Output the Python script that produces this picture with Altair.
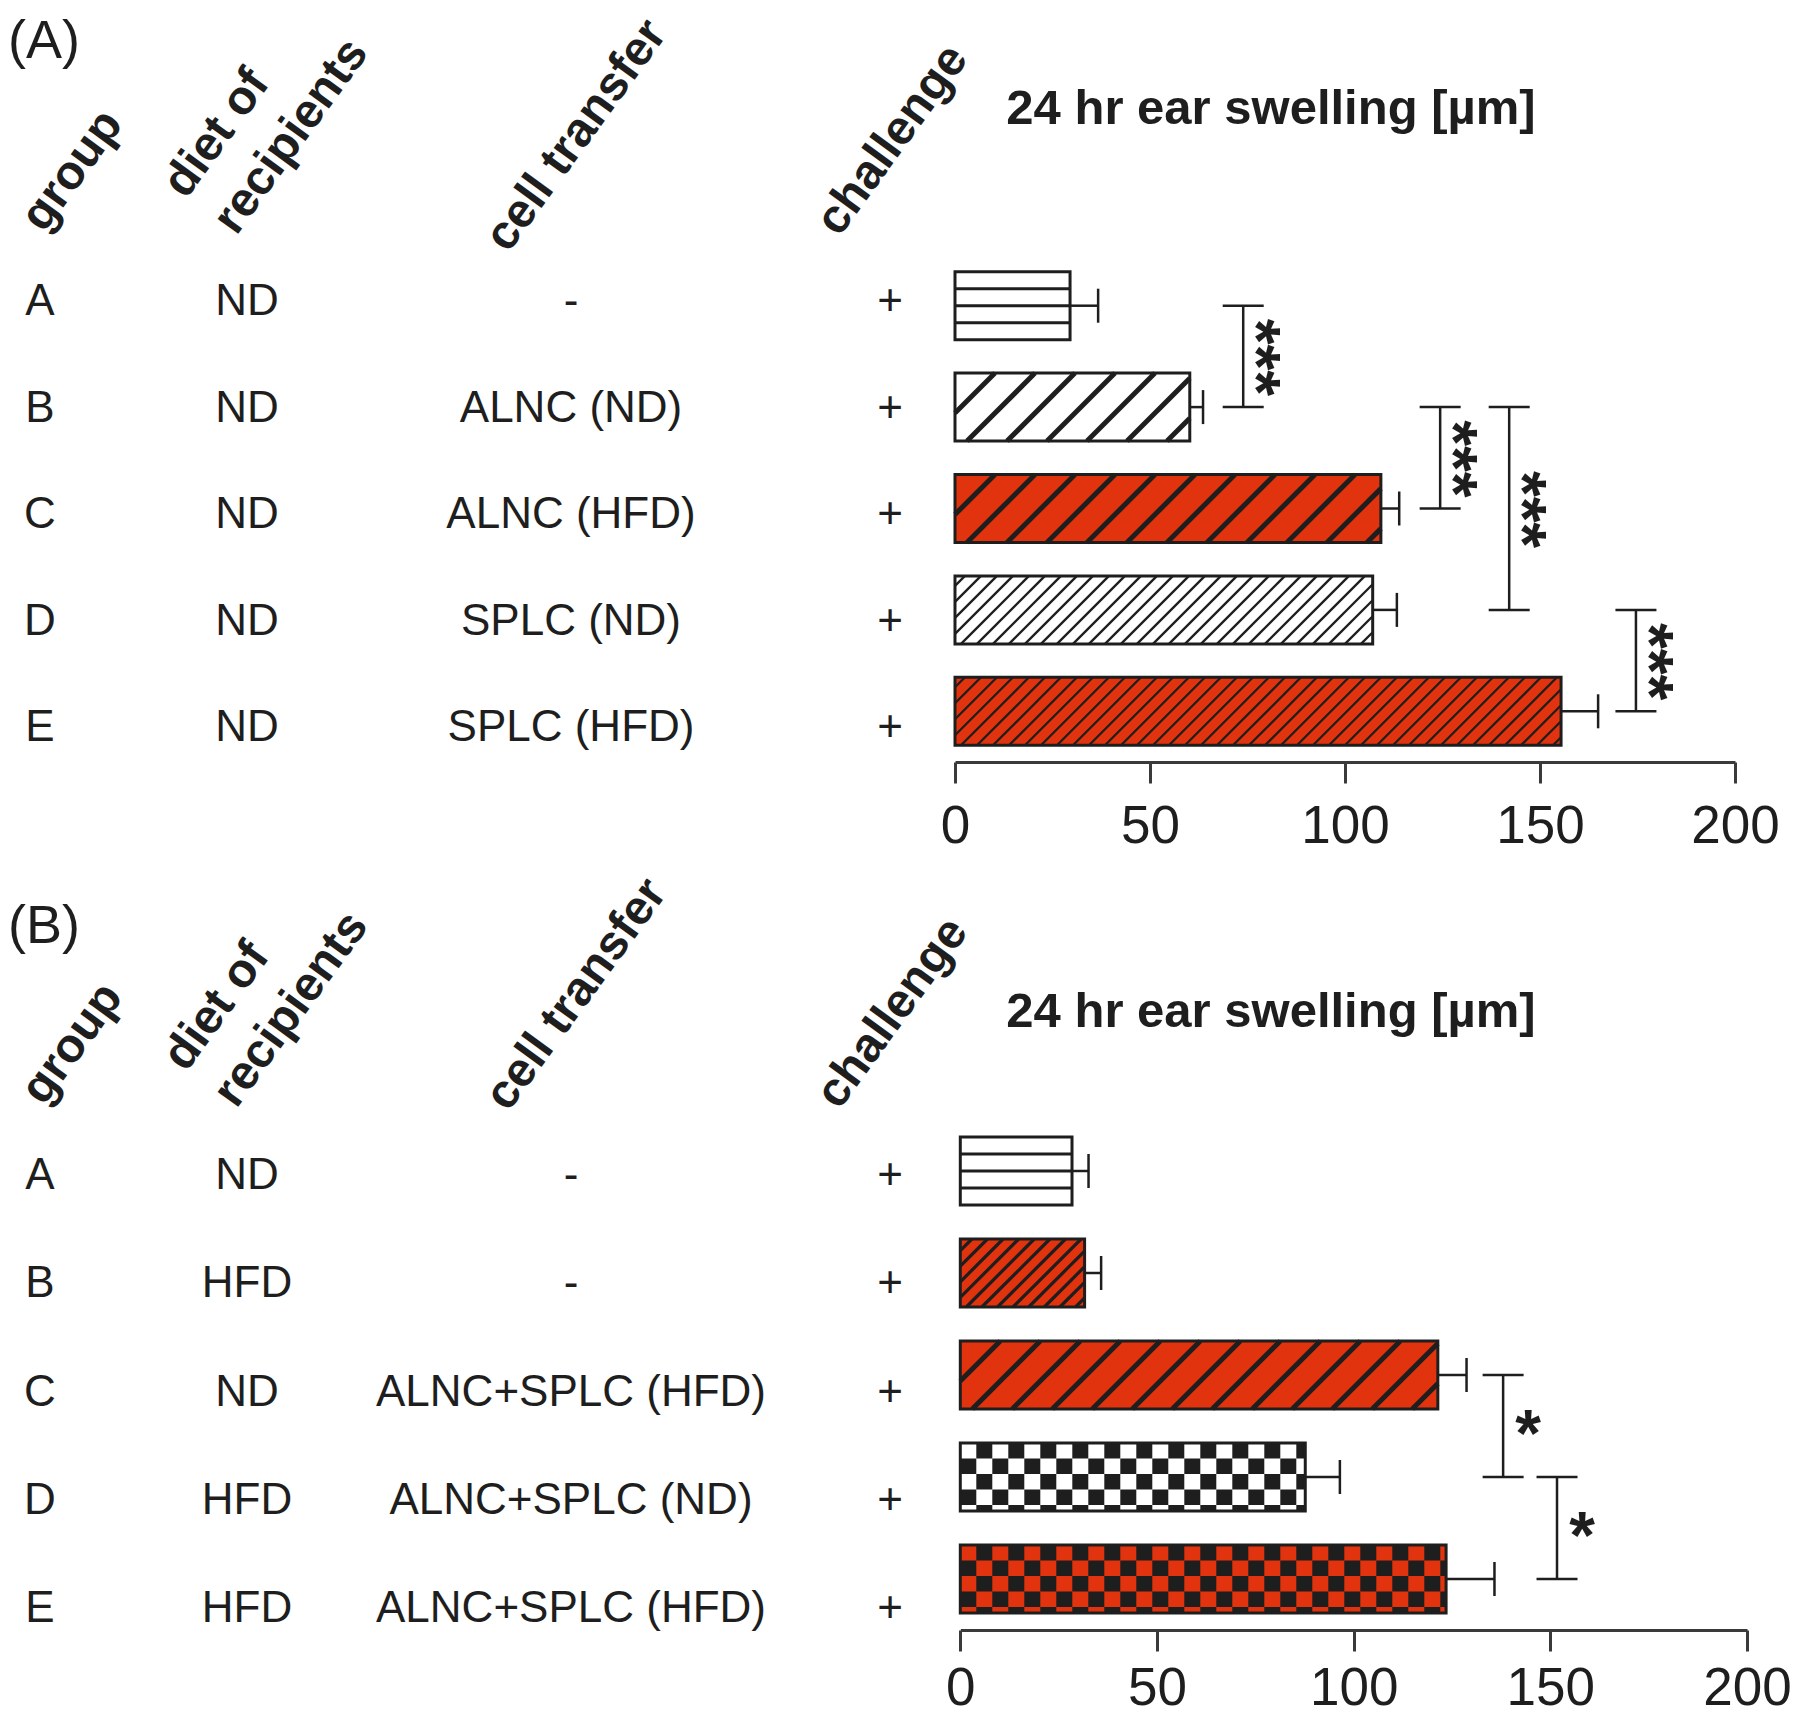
import altair as alt
import pandas as pd
import numpy as np

# ------------------------------------------------------------------ data
groups = ["A", "B", "C", "D", "E"]
headers = ["group", "diet of\nrecipients", "cell transfer", "challenge"]
title_text = "24 hr ear swelling [µm]"
x_ticks = [0, 50, 100, 150, 200]

# panel (A)
a_diet = ["ND", "ND", "ND", "ND", "ND"]
a_transfer = ["-", "ALNC (ND)", "ALNC (HFD)", "SPLC (ND)", "SPLC (HFD)"]
a_challenge = ["+", "+", "+", "+", "+"]
a_mean = [29.5, 60.2, 109.2, 107.1, 155.4]
a_sem = [7.2, 3.4, 4.7, 6.2, 9.5]
a_sig_from = ["A", "B", "B", "D"]
a_sig_to = ["B", "C", "D", "E"]
a_sig_x = [73.9, 124.4, 142.1, 174.6]
a_sig_label = ["***", "***", "***", "***"]

# panel (B)
b_diet = ["ND", "HFD", "ND", "HFD", "HFD"]
b_transfer = ["-", "-", "ALNC+SPLC (HFD)", "ALNC+SPLC (ND)", "ALNC+SPLC (HFD)"]
b_challenge = ["+", "+", "+", "+", "+"]
b_mean = [28.4, 31.6, 121.4, 87.7, 123.5]
b_sem = [4.2, 4.2, 7.3, 8.8, 12.3]
b_sig_from = ["C", "D"]
b_sig_to = ["D", "E"]
b_sig_x = [138.0, 151.7]
b_sig_label = ["*", "*"]

# ------------------------------------------------------------------ styles
FONT = "Liberation Sans"
RED = "#E2330F"
INK = "#1e1e1e"
AXIS = "#3a3a3a"

a_patterns = [("hlines", "white"), ("diag_thick", "white"), ("diag_thick", RED),
              ("diag_thin", "white"), ("diag_thin", RED)]
b_patterns = [("hlines", "white"), ("diag_mid", RED), ("diag_thick", RED),
              ("check", "white"), ("check", RED)]

PAT = {
    "hlines": dict(kind="h", w=3.0),
    "diag_thick": dict(kind="d", period=40.0, w=5.0, phase=12.0),
    "diag_thin": dict(kind="d", period=16.0, w=2.3, phase=6.0),
    "diag_mid": dict(kind="d", period=15.6, w=3.2, phase=6.0),
    "check": dict(kind="c", cw=16.0, ch=15.5),
}

BAR_PX = 68.0      # bar thickness in pixels
CAP_PX = 17.0      # half height of error-bar caps
BRK_PX = 20.5      # half width of bracket caps
col_x = [32, 239, 563, 882]

layout_a = dict(xr=[947, 1727], yr=[247, 754], axis_offset=-868, label_pad=17, label="(A)", label_xy=(0, 7),
                headers_xy=[(36, 226), (178, 192), (500, 246), (831, 230)],
                title_xy=(1263, 116), sig_angle=90, sig_dx=1, sig_dy=-11,
                row_shift=-0.032, row_scale=1.050)
layout_b = dict(xr=[952.3, 1739], yr=[1112, 1622], axis_offset=0, label_pad=11, label="(B)", label_xy=(0, 892),
                headers_xy=[(36, 1099), (178, 1065), (500, 1105), (831, 1103)],
                title_xy=(1263, 1019), sig_angle=0, sig_dx=25, sig_dy=10,
                row_shift=0.05, row_scale=1.061)


def pattern_frames(mean, patterns, kx, ky):
    """Hatch segments / checker squares derived from bar values (in data units)."""
    hh = BAR_PX / 2 / ky
    segs, sqs = [], []
    for idx, (m, (pname, fill)) in enumerate(zip(mean, patterns)):
        p = PAT[pname]
        W = m * kx
        H = BAR_PX
        if p["kind"] == "h":
            for f in (0.25, 0.5, 0.75):
                yv = idx - hh + f * 2 * hh
                segs.append(dict(x=0.0, x2=m, y=yv, y2=yv, sw=p["w"]))
        elif p["kind"] == "d":
            P = p["period"]
            k0 = int(np.floor((-H - p["phase"]) / P)) - 1
            k1 = int(np.ceil((W - p["phase"]) / P)) + 1
            for k in range(k0, k1 + 1):
                c = p["phase"] + k * P
                w_lo = max(0.0, -c)
                w_hi = min(H, W - c)
                if w_hi - w_lo > 0.8:
                    u1, u2 = w_lo + c, w_hi + c
                    segs.append(dict(x=u1 / kx, x2=u2 / kx,
                                     y=idx + hh - w_lo / ky, y2=idx + hh - w_hi / ky, sw=p["w"]))
        else:
            cw, ch = p["cw"], p["ch"]
            ncol = int(np.ceil(W / cw))
            nrow = int(np.ceil(H / ch))
            for r in range(nrow):
                for c in range(ncol):
                    if (r + c) % 2 == 1:
                        x0, x1 = c * cw, min((c + 1) * cw, W)
                        y0, y1 = r * ch, min((r + 1) * ch, H)
                        sqs.append(dict(x=x0 / kx, x2=x1 / kx,
                                        y=idx - hh + y0 / ky, y2=idx - hh + y1 / ky))
    return pd.DataFrame(segs), pd.DataFrame(sqs)


def build_panel(diet, transfer, challenge, mean, sem, sig_from, sig_to, sig_x, sig_label, patterns, L):
    kx = (L["xr"][1] - L["xr"][0]) / 200.0
    ky = (L["yr"][1] - L["yr"][0]) / 5.0
    hh = BAR_PX / 2 / ky
    cap = CAP_PX / ky
    brk = BRK_PX / kx

    xs = alt.Scale(domain=[0, 200], range=L["xr"], nice=False, zero=False)
    ys = alt.Scale(domain=[-0.5, 4.5], range=L["yr"], nice=False, zero=False)
    xaxis = alt.Axis(orient="bottom", offset=L["axis_offset"], values=x_ticks, format="d", title=None,
                     grid=False, domainColor=AXIS, domainWidth=3, tickColor=AXIS, tickWidth=3,
                     tickSize=21, labelFontSize=53, labelFont=FONT, labelColor=INK,
                     labelPadding=L["label_pad"], labelFlush=False, labelOverlap=False)

    def X(f):
        return alt.X(f, scale=xs, axis=xaxis)

    def Y(f):
        return alt.Y(f, scale=ys, axis=None)

    df = pd.DataFrame({"group": groups, "idx": list(range(5)), "diet": diet, "transfer": transfer,
                       "challenge": challenge, "mean": mean, "sem": sem,
                       "fill": [p[1] for p in patterns]})
    base = alt.Chart(df).transform_calculate(
        x0="0", y0=f"datum.idx - {hh}", y1=f"datum.idx + {hh}",
        hi="datum.mean + datum.sem", c0=f"datum.idx - {cap}", c1=f"datum.idx + {cap}",
        trow=f"{L['row_shift']} + {L['row_scale']} * datum.idx")

    layers = []
    layers.append(base.mark_rect().encode(x=X("x0:Q"), x2="mean:Q", y=Y("y0:Q"), y2="y1:Q",
                                          color=alt.Color("fill:N", scale=None)))
    seg_df, sq_df = pattern_frames(mean, patterns, kx, ky)
    if len(sq_df):
        layers.append(alt.Chart(sq_df).mark_rect(color=INK).encode(
            x=X("x:Q"), x2="x2:Q", y=Y("y:Q"), y2="y2:Q"))
    if len(seg_df):
        layers.append(alt.Chart(seg_df).mark_rule(color=INK, strokeCap="butt").encode(
            x=X("x:Q"), x2="x2:Q", y=Y("y:Q"), y2="y2:Q",
            strokeWidth=alt.StrokeWidth("sw:Q", scale=None)))
    layers.append(base.mark_rect(fill="white", fillOpacity=0, stroke=INK, strokeWidth=3).encode(
        x=X("x0:Q"), x2="mean:Q", y=Y("y0:Q"), y2="y1:Q"))
    # error bars (upper side only)
    layers.append(base.mark_rule(color=INK, strokeWidth=2.5).encode(x=X("mean:Q"), x2="hi:Q", y=Y("idx:Q")))
    layers.append(base.mark_rule(color=INK, strokeWidth=2.5).encode(x=X("hi:Q"), y=Y("c0:Q"), y2="c1:Q"))

    # significance brackets
    sdf = pd.DataFrame({"f": [groups.index(g) for g in sig_from], "t": [groups.index(g) for g in sig_to],
                        "x": sig_x, "label": sig_label})
    sb = alt.Chart(sdf).transform_calculate(
        mid="(datum.f + datum.t) / 2", xl=f"datum.x - {brk}", xr=f"datum.x + {brk}")
    layers.append(sb.mark_rule(color=INK, strokeWidth=2.5).encode(x=X("x:Q"), y=Y("f:Q"), y2="t:Q"))
    layers.append(sb.mark_rule(color=INK, strokeWidth=2.5).encode(x=X("xl:Q"), x2="xr:Q", y=Y("f:Q")))
    layers.append(sb.mark_rule(color=INK, strokeWidth=2.5).encode(x=X("xl:Q"), x2="xr:Q", y=Y("t:Q")))
    layers.append(sb.mark_text(font=FONT, fontSize=66, fontWeight="bold", color=INK, angle=L["sig_angle"],
                               align="center", baseline="middle", dx=L["sig_dx"], dy=L["sig_dy"]).encode(
        x=X("x:Q"), y=Y("mid:Q"), text="label:N"))

    # table columns
    for field, cx in zip(["group", "diet", "transfer", "challenge"], col_x):
        layers.append(base.mark_text(font=FONT, fontSize=44, color=INK, align="center",
                                     baseline="middle").encode(
            x=alt.value(cx), y=Y("trow:Q"), text=f"{field}:N"))

    # rotated column headers
    for h, (hx, hy) in zip(headers, L["headers_xy"]):
        layers.append(alt.Chart(pd.DataFrame({"t": [h]})).mark_text(
            font=FONT, fontSize=48, fontWeight="bold", color=INK, angle=306, align="left",
            baseline="alphabetic", lineBreak="\n", lineHeight=62).encode(
            x=alt.value(hx), y=alt.value(hy), text="t:N"))

    # title and panel letter
    layers.append(alt.Chart(pd.DataFrame({"t": [title_text]})).mark_text(
        font=FONT, fontSize=49, fontWeight="bold", color=INK, align="center", baseline="alphabetic").encode(
        x=alt.value(L["title_xy"][0]), y=alt.value(L["title_xy"][1]), text="t:N"))
    layers.append(alt.Chart(pd.DataFrame({"t": [L["label"]]})).mark_text(
        font=FONT, fontSize=54, color=INK, align="left", baseline="top").encode(
        x=alt.value(L["label_xy"][0]), y=alt.value(L["label_xy"][1]), text="t:N"))

    return alt.layer(*layers)


panel_a = build_panel(a_diet, a_transfer, a_challenge, a_mean, a_sem,
                      a_sig_from, a_sig_to, a_sig_x, a_sig_label, a_patterns, layout_a)
panel_b = build_panel(b_diet, b_transfer, b_challenge, b_mean, b_sem,
                      b_sig_from, b_sig_to, b_sig_x, b_sig_label, b_patterns, layout_b)

chart = alt.layer(panel_a, panel_b).resolve_scale(
    x="independent", y="independent"
).resolve_axis(
    x="independent", y="independent"
).properties(
    width=1784, height=1622,
    autosize=alt.AutoSizeParams(type="none"),
    padding={"left": 0, "top": 0, "right": 0, "bottom": 86},
    background="white",
).configure_view(strokeWidth=0)

chart.save("out.html", embed_options={"renderer": "svg", "actions": False})
